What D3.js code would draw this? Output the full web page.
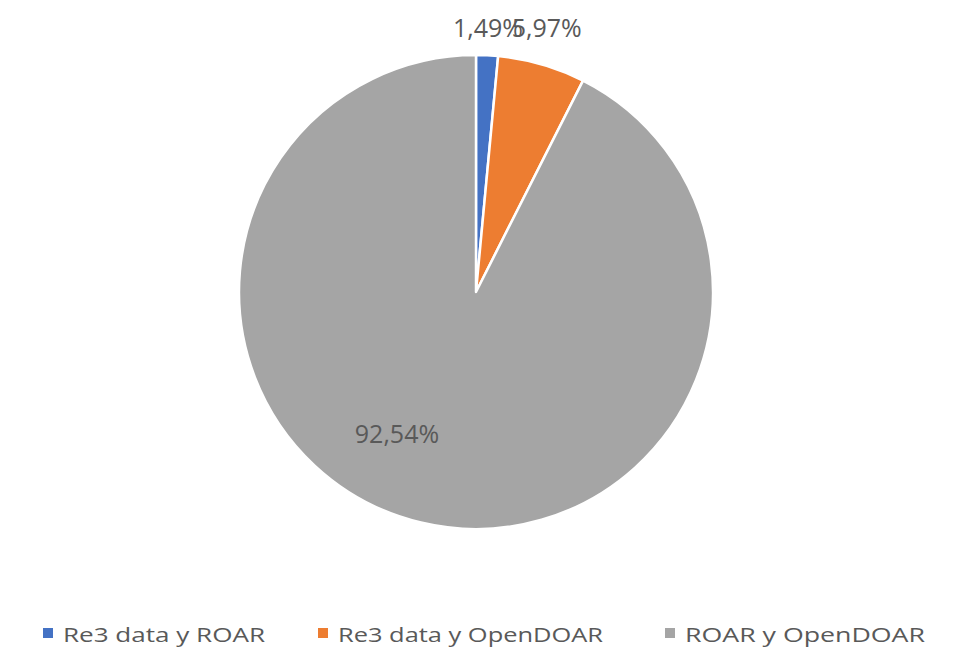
<!DOCTYPE html>
<html>
<head>
<meta charset="utf-8">
<script src="https://cdn.jsdelivr.net/npm/d3@7"></script>
<style>
  body { margin: 0; background: #fff; }
  text { font-family: "Open Sans", "DejaVu Sans", sans-serif; fill: #595959; }
</style>
</head>
<body>
<div id="chart"></div>
<script>
"use strict";
// slices in the order Excel draws them, clockwise from 12 o'clock
var categories = ["Re3 data y ROAR", "Re3 data y OpenDOAR", "ROAR y OpenDOAR"];
var values = [1.49, 5.97, 92.54];
var labels = ["1,49%", "5,97%", "92,54%"];
var colors = ["#4472C4", "#ED7D31", "#A5A5A5"];

var w = 961, h = 649;
var cx = 476, cy = 292, rad = 237;

var svg = d3.select("#chart").append("svg")
  .attr("width", w)
  .attr("height", h);

var pie = d3.pie().sort(null).value(function(d) { return d; });
var arcs = pie(values);
var arc = d3.arc().innerRadius(0).outerRadius(rad);

var g = svg.append("g").attr("transform", "translate(" + cx + "," + cy + ")");

g.selectAll(".slice")
  .data(arcs)
  .enter()
  .append("path")
  .attr("class", "slice")
  .attr("d", arc)
  .style("fill", function(d, i) { return colors[i]; })
  .style("stroke", "#fff")
  .style("stroke-width", 2.5)
  .style("stroke-linejoin", "round");

//small slices get their labels in a row above the pie, the big one inside
function labelPos(d) {
  var mid = (d.startAngle + d.endAngle) / 2;
  if (d.data < 10) {
    var r = rad + 18;
    return [r * Math.sin(mid), -r];
  }
  var a = mid + 0.27, r2 = rad * 0.69;
  return [r2 * Math.sin(a), -r2 * Math.cos(a) + 8];
}

g.selectAll(".lbl")
  .data(arcs)
  .enter()
  .append("text")
  .attr("class", "lbl")
  .attr("x", function(d) { return labelPos(d)[0]; })
  .attr("y", function(d) { return labelPos(d)[1]; })
  .attr("text-anchor", "middle")
  .style("font-size", "25px")
  .text(function(d, i) { return labels[i]; });

//legend, one entry per category
var legendX = [43, 318, 665];
var legendW = [202, 265, 240];
var leg = svg.append("g").selectAll(".leg")
  .data(categories)
  .enter()
  .append("g")
  .attr("class", "leg")
  .attr("transform", function(d, i) { return "translate(" + legendX[i] + ",628)"; });

leg.append("rect")
  .attr("width", 10)
  .attr("height", 10)
  .style("fill", function(d, i) { return colors[i]; });

leg.append("text")
  .attr("x", 20)
  .attr("y", 14)
  .style("font-size", "20px")
  .attr("textLength", function(d, i) { return legendW[i]; })
  .attr("lengthAdjust", "spacingAndGlyphs")
  .text(function(d) { return d; });
</script>
</body>
</html>
